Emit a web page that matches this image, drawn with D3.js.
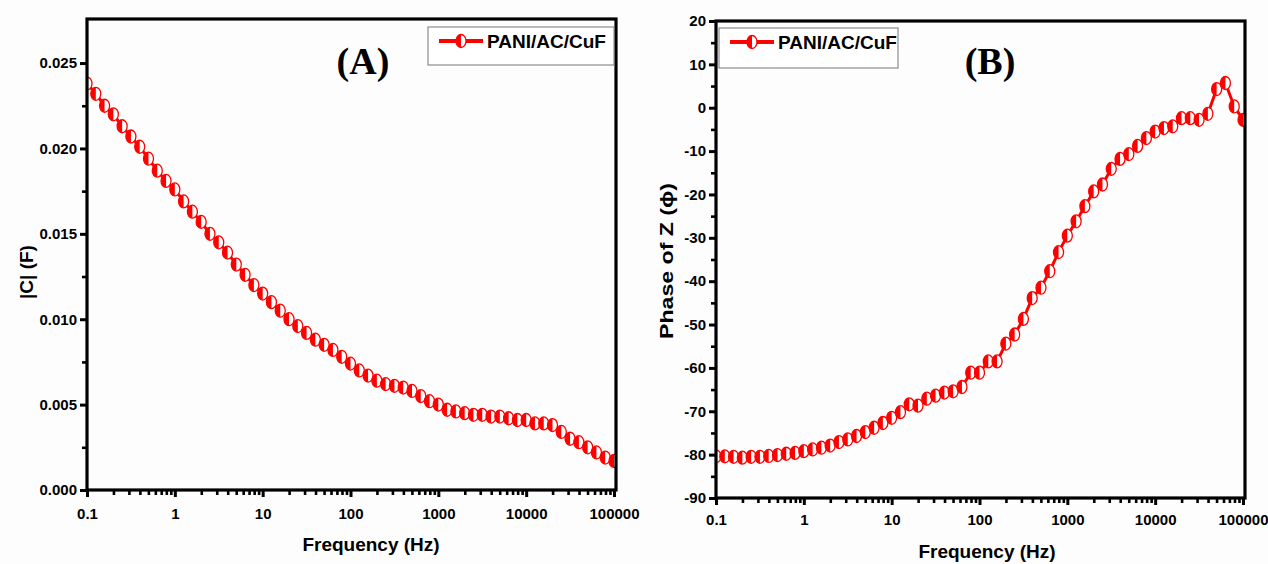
<!DOCTYPE html>
<html><head><meta charset="utf-8">
<script src="https://cdn.jsdelivr.net/npm/d3@7/dist/d3.min.js"></script>
<style>
html,body{margin:0;padding:0;background:#fdfdfd;}
svg{display:block;}
</style></head>
<body>
<svg id="chart" width="1268" height="564"></svg>
<script>
// ---- data ----
const freq = [0.1,0.1259,0.1585,0.1995,0.2512,0.3162,0.3981,0.5012,0.631,0.7943,
  1,1.259,1.585,1.995,2.512,3.162,3.981,5.012,6.31,7.943,
  10,12.59,15.85,19.95,25.12,31.62,39.81,50.12,63.1,79.43,
  100,125.9,158.5,199.5,251.2,316.2,398.1,501.2,631,794.3,
  1000,1259,1585,1995,2512,3162,3981,5012,6310,7943,
  10000,12590,15850,19950,25120,31620,39810,50120,63100,79430,
  100000];
const capC = [0.0238,0.0232,0.0225,0.0220,0.0213,0.0207,0.0201,0.0194,0.0187,0.0181,
  0.0176,0.0169,0.0163,0.0157,0.0150,0.0145,0.0139,0.0132,0.0126,0.0120,
  0.0115,0.0110,0.0105,0.0100,0.0096,0.0092,0.0088,0.0085,0.0082,0.0078,
  0.0074,0.0070,0.0067,0.0064,0.0062,0.0061,0.0060,0.0058,0.0055,0.0052,
  0.0050,0.0047,0.0046,0.0045,0.0044,0.0044,0.0043,0.0043,0.0042,0.0041,
  0.0041,0.0039,0.0039,0.0038,0.0034,0.0030,0.0028,0.0025,0.0022,0.0019,
  0.0017];
const phaseZ = [-80.4,-80.4,-80.5,-80.7,-80.5,-80.5,-80.3,-80.1,-79.8,-79.6,
  -79.2,-78.8,-78.4,-77.9,-77.1,-76.5,-75.7,-74.8,-73.8,-72.7,
  -71.5,-70.2,-68.4,-68.7,-67.1,-66.4,-65.7,-65.4,-64.4,-61.1,
  -61.1,-58.5,-58.5,-54.4,-52.3,-48.7,-43.9,-41.5,-37.7,-33.3,
  -29.5,-26.2,-22.7,-19.3,-17.7,-14.1,-11.8,-10.7,-8.8,-7.0,
  -5.5,-4.7,-4.3,-2.4,-2.4,-2.8,-1.4,4.3,5.7,0.3,
  -2.8];
const xTicks = [0.1,1,10,100,1000,10000,100000];
const xTickLabels = ["0.1","1","10","100","1000","10000","100000"];
const yTicksA = [0,0.005,0.010,0.015,0.020,0.025];
const yTickLabelsA = ["0.000","0.005","0.010","0.015","0.020","0.025"];
const yTicksB = [-90,-80,-70,-60,-50,-40,-30,-20,-10,0,10,20];
const seriesName = "PANI/AC/CuF";

const svg = d3.select("#chart");
const RED = "#ff0000";
const SANS = "'Liberation Sans', Arial, sans-serif";
const SERIF = "'Liberation Serif', 'Times New Roman', serif";

function styleText(sel, size){
  sel.style("font-family",SANS).style("font-weight","bold").style("font-size",size+"px").style("fill","#000");
}

function panel(cfg){
  const g = svg.append("g");
  const x = d3.scaleLog().domain([0.1,100000]).range([cfg.left, cfg.xEnd]);
  const y = d3.scaleLinear().domain(cfg.yDomain).range([cfg.bottom, cfg.top]);

  const minors = [];
  for (let d = 0.1; d < 100000; d *= 10) for (let k = 2; k <= 9; k++) minors.push(d*k);
  g.append("g").attr("transform",`translate(0,${cfg.bottom})`)
    .call(d3.axisBottom(x).tickValues(minors).tickSize(5).tickFormat(""))
    .call(a=>{a.select(".domain").remove(); a.selectAll("line").attr("stroke","#000").attr("stroke-width",2.6);});
  g.append("g").attr("transform",`translate(0,${cfg.bottom})`)
    .call(d3.axisBottom(x).tickValues(xTicks).tickSize(7).tickPadding(cfg.xPad)
      .tickFormat((d,i)=>xTickLabels[i]))
    .call(a=>{a.select(".domain").remove(); a.selectAll("line").attr("stroke","#000").attr("stroke-width",3);
      styleText(a.selectAll("text"),15);});
  g.append("g").attr("transform",`translate(${cfg.left},0)`)
    .call(d3.axisLeft(y).tickValues(cfg.yMinor).tickSize(5).tickFormat(""))
    .call(a=>{a.select(".domain").remove(); a.selectAll("line").attr("stroke","#000").attr("stroke-width",2.6);});
  g.append("g").attr("transform",`translate(${cfg.left},0)`)
    .call(d3.axisLeft(y).tickValues(cfg.yTicks).tickSize(7).tickPadding(3)
      .tickFormat((d,i)=>cfg.yLabels[i]))
    .call(a=>{a.select(".domain").remove(); a.selectAll("line").attr("stroke","#000").attr("stroke-width",3);
      styleText(a.selectAll("text"),15);});

  const pts = freq.map((f,i)=>[f, cfg.values[i]]);
  const clipId = "clip"+cfg.id;
  svg.append("clipPath").attr("id",clipId).append("rect")
    .attr("x",cfg.left).attr("y",cfg.top).attr("width",cfg.right-cfg.left).attr("height",cfg.bottom-cfg.top);
  const dg = g.append("g").attr("clip-path",`url(#${clipId})`);
  dg.append("path").datum(pts)
    .attr("d", d3.line().x(d=>x(d[0])).y(d=>y(d[1])))
    .attr("fill","none").attr("stroke",RED).attr("stroke-width",3);
  drawMarkers(dg, pts.map(d=>[x(d[0]), y(d[1])]));

  g.append("rect").attr("x",cfg.left).attr("y",cfg.top)
    .attr("width",cfg.right-cfg.left).attr("height",cfg.bottom-cfg.top)
    .attr("fill","none").attr("stroke","#000").attr("stroke-width",3.2);

  styleText(g.append("text").attr("x",cfg.xTitleX).attr("y",cfg.xTitleY)
    .attr("text-anchor","middle").text("Frequency (Hz)"), 19);
  const yt = g.append("text").attr("transform",`translate(${cfg.yTitleX},${cfg.yTitleMid}) rotate(-90)`)
    .attr("text-anchor","middle").text(cfg.yTitle);
  styleText(yt, 19);
  if (cfg.yTitleLen) yt.attr("textLength",cfg.yTitleLen).attr("lengthAdjust","spacingAndGlyphs");

  g.append("text").attr("x",cfg.labelX).attr("y",cfg.labelY).attr("text-anchor","middle")
    .style("font-family",SERIF).style("font-weight","bold").style("font-size","38px").style("fill","#000")
    .text(cfg.label);

  const L = cfg.legend;
  g.append("rect").attr("x",L.x).attr("y",L.y).attr("width",L.w).attr("height",L.h)
    .attr("fill","#fff").attr("stroke","#777").attr("stroke-width",1);
  g.append("line").attr("x1",L.x+11).attr("x2",L.x+55).attr("y1",L.y+14).attr("y2",L.y+14)
    .attr("stroke",RED).attr("stroke-width",4);
  drawMarkers(g, [[L.x+33, L.y+14]]);
  styleText(g.append("text").attr("x",L.x+59).attr("y",L.y+21).text(seriesName), 19);
}

function drawMarkers(sel, coords){
  const rx = 5, ry = 6.5;
  const m = sel.append("g").selectAll("g").data(coords).join("g")
    .attr("transform", d=>`translate(${d[0]},${d[1]})`);
  m.append("ellipse").attr("rx",rx).attr("ry",ry).attr("fill","#fff")
    .attr("stroke",RED).attr("stroke-width",1.3);
  m.append("path").attr("d",`M0,${-ry} A${rx},${ry} 0 0 0 0,${ry} Z`).attr("fill",RED);
}

panel({id:"A", left:87, right:616, xEnd:614, top:19, bottom:490,
  yDomain:[0, 0.02758], yTicks:yTicksA, yLabels:yTickLabelsA,
  yMinor:[0.0025,0.0075,0.0125,0.0175,0.0225], values:capC,
  xPad:11, xTitleX:371, xTitleY:551, yTitle:"|C| (F)", yTitleX:33, yTitleMid:272,
  label:"(A)", labelX:363, labelY:74,
  legend:{x:428, y:27, w:186, h:38}});

panel({id:"B", left:716, right:1245, xEnd:1243, top:21, bottom:498,
  yDomain:[-90, 20], yTicks:yTicksB, yLabels:yTicksB.map(String),
  yMinor:[-85,-75,-65,-55,-45,-35,-25,-15,-5,5,15], values:phaseZ,
  xPad:9, xTitleX:987, xTitleY:558, yTitle:"Phase of Z (\u03D5)", yTitleX:673, yTitleMid:261, yTitleLen:156,
  label:"(B)", labelX:990, labelY:74,
  legend:{x:719, y:28, w:179, h:40}});
</script>
</body></html>
